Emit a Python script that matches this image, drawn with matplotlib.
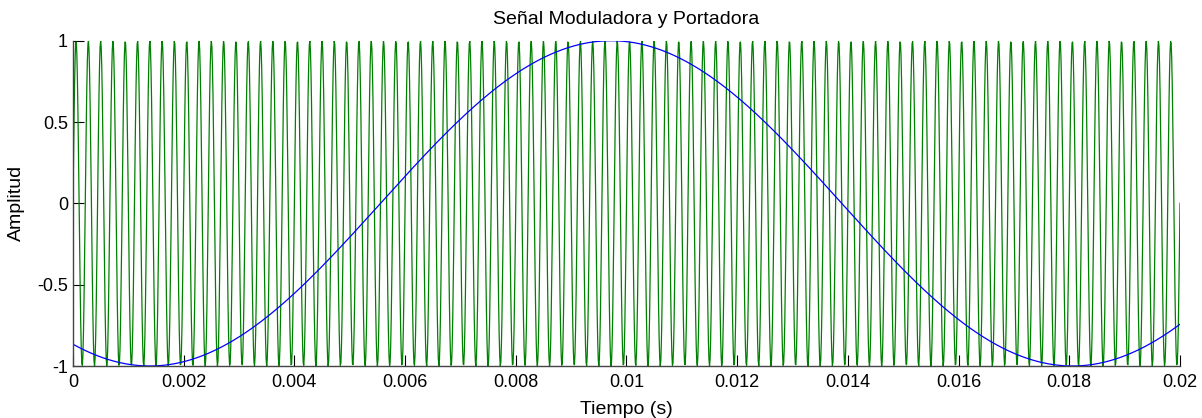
import numpy as np
import matplotlib
matplotlib.use('Agg')
import matplotlib.pyplot as plt
from matplotlib.ticker import FormatStrFormatter

# Signal parameters
t_span = [0.0, 0.02]        # s
fs = 100000                 # sample rate (Hz)
f_carrier = 4500            # portadora (Hz)
f_mod = 60                  # moduladora (Hz)
phase_mod = -2 * np.pi / 3  # rad
amp = 1.0

x_ticks = [0, 0.002, 0.004, 0.006, 0.008, 0.01, 0.012, 0.014, 0.016, 0.018, 0.02]
y_ticks = [-1, -0.5, 0, 0.5, 1]

t = np.arange(t_span[0], t_span[1] + 1 / fs / 2, 1 / fs)
portadora = amp * np.sin(2 * np.pi * f_carrier * t)
moduladora = amp * np.sin(2 * np.pi * f_mod * t + phase_mod)

plt.rcParams['font.family'] = ['Liberation Sans', 'DejaVu Sans']

fig = plt.figure(figsize=(12.02, 4.18), dpi=100)
ax = fig.add_axes([0.0607, 0.1244, 0.9210, 0.7782])

ax.plot(t, portadora, color=(0, 0.5, 0), linewidth=0.9)
ax.plot(t, moduladora, color=(0, 0, 1), linewidth=0.9)

ax.set_xlim(t_span)
ax.set_ylim(-1, 1)
ax.set_xticks(x_ticks)
ax.set_yticks(y_ticks)
ax.xaxis.set_major_formatter(FormatStrFormatter('%g'))
ax.yaxis.set_major_formatter(FormatStrFormatter('%g'))
ax.tick_params(direction='in', length=8, width=0.8, labelsize=13, colors='black')
ax.tick_params(axis='x', pad=6)

for side in ['top', 'right']:
    ax.spines[side].set_visible(False)
for side in ['left', 'bottom']:
    ax.spines[side].set_color('#444444')
    ax.spines[side].set_linewidth(1.0)

ax.set_title('Señal Moduladora y Portadora', fontsize=14, pad=12)
ax.set_xlabel('Tiempo (s)', fontsize=14, labelpad=7)
ax.set_ylabel('Amplitud', fontsize=14, labelpad=9)

fig.savefig('out.png', dpi=100)
